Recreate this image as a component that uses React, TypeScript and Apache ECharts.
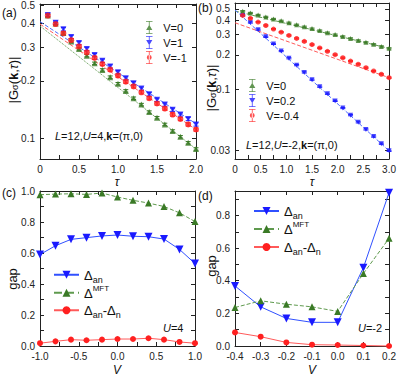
import React, { useEffect, useRef } from "react";
import * as echarts from "echarts";

// ---------- data ----------
// panel (a): |G(k,tau)|, L=12, U=4
const tauA = [0.1, 0.2, 0.3, 0.4, 0.5, 0.6, 0.7, 0.8, 0.9, 1.0, 1.1, 1.2, 1.3, 1.4, 1.5, 1.6, 1.7, 1.8, 1.9, 2.0];
const aV0 = [0.44, 0.4, 0.356, 0.322, 0.294, 0.271, 0.247, 0.228, 0.209, 0.193, 0.177, 0.162, 0.15, 0.137, 0.128, 0.118, 0.109, 0.1016, 0.0945, 0.0877];
const aV1 = [0.443, 0.404, 0.373, 0.34, 0.316, 0.294, 0.273, 0.255, 0.238, 0.222, 0.206, 0.194, 0.182, 0.17, 0.159, 0.15, 0.141, 0.133, 0.126, 0.118];
const aVm1 = [0.44, 0.397, 0.355, 0.327, 0.303, 0.282, 0.264, 0.245, 0.229, 0.213, 0.198, 0.187, 0.174, 0.162, 0.152, 0.143, 0.133, 0.126, 0.118, 0.111];
const aFitTau = [0, 2.0];
const aFitV0 = [0.388, 0.0877];
const aFitV1 = [0.409, 0.119];
const aFitVm1 = [0.397, 0.111];
const aErrRel = [0.015, 0.02, 0.02];
const aNames = ["V=0", "V=1", "V=-1"];

// panel (b): L=12, U=-2
const tauB = [0.15, 0.3, 0.45, 0.6, 0.75, 0.9, 1.05, 1.2, 1.35, 1.5, 1.65, 1.8, 1.95, 2.1, 2.25, 2.4, 2.55, 2.7, 2.85, 3.0];
const bV0 = [0.478, 0.462, 0.444, 0.427, 0.41, 0.395, 0.38, 0.365, 0.351, 0.338, 0.325, 0.312, 0.3, 0.289, 0.278, 0.267, 0.257, 0.247, 0.237, 0.228];
const bV02 = [0.44, 0.382, 0.331, 0.287, 0.249, 0.216, 0.187, 0.163, 0.141, 0.122, 0.106, 0.0921, 0.0799, 0.0693, 0.0601, 0.0521, 0.0452, 0.0392, 0.034, 0.0295];
const bVm04 = [0.44, 0.415, 0.385, 0.36, 0.335, 0.315, 0.295, 0.278, 0.262, 0.246, 0.23, 0.215, 0.201, 0.189, 0.177, 0.166, 0.155, 0.145, 0.136, 0.127];
const bFitTau = [0, 3.0];
const bFitV0 = [0.48, 0.228];
const bFitV02 = [0.49, 0.0295];
const bFitVm04 = [0.38, 0.127];
const bErrRel = [0.012, 0.012, 0.012];
const bNames = ["V=0", "V=0.2", "V=-0.4"];

// panel (c): gap vs V, U=4
const vC = [-1.0, -0.8, -0.6, -0.4, -0.2, 0.0, 0.2, 0.4, 0.6, 0.8, 1.0];
const cAn = [0.59, 0.647, 0.688, 0.699, 0.71, 0.716, 0.708, 0.705, 0.69, 0.623, 0.532];
const cMft = [0.976, 0.98, 0.982, 0.978, 0.987, 0.961, 0.94, 0.922, 0.9, 0.859, 0.803];
const cDiff = [0.018, 0.03, 0.041, 0.037, 0.041, 0.045, 0.045, 0.05, 0.041, 0.026, 0.018];

// panel (d): gap vs V, U=-2
const vD = [-0.4, -0.3, -0.2, -0.1, 0.0, 0.1, 0.2];
const dAn = [0.368, 0.24, 0.169, 0.145, 0.145, 0.48, 0.94];
const dMft = [0.236, 0.277, 0.256, 0.24, 0.212, 0.444, 0.66];
const dDiff = [0.083, 0.057, 0.022, 0.008, 0.006, 0.003, 0.0];

// tick label values
const aYTicks = [0.1, 0.2, 0.3, 0.4, 0.5];
const bYTicks = [0.03, 0.1, 0.2, 0.3, 0.4, 0.5];
const dYLabels = [0.0, 0.2, 0.4, 0.6, 0.8];
const dYTicks = [0.0, 0.1, 0.2, 0.3, 0.4, 0.5, 0.6, 0.7, 0.8, 0.9];

// ---------- style ----------
const FONT = "'Liberation Sans', Arial, sans-serif";
const AX = "#222";
const GREEN = "#3a7a26";
const BLUE = "#1a1aff";
const RED = "#ff2020";
const GREEN_L = "#5f9a4e";
const BLUE_L = "#4f6cff";
const RED_L = "#ff5a5a";

const lg = (v: number) => Math.log10(v);

const tickStyle = { inside: true, length: 4, lineStyle: { color: AX, width: 1 } };
const minorStyle = { show: true, splitNumber: 2, length: 4, lineStyle: { color: AX, width: 1 } };
const labelStyle = { color: "#222", fontSize: 10, fontFamily: FONT };
const lineStyleAx = { show: true, onZero: false, lineStyle: { color: AX, width: 1 } };

function xPair(grid: number, min: number, max: number, interval: number, minor: boolean, fmt: (v: number) => string) {
  const base: any = {
    type: "value",
    gridIndex: grid,
    min,
    max,
    interval,
    axisLine: lineStyleAx,
    axisTick: tickStyle,
    minorTick: minor ? minorStyle : { show: false },
    splitLine: { show: false },
    minorSplitLine: { show: false },
  };
  return [
    { ...base, position: "bottom", axisLabel: { ...labelStyle, margin: 5, formatter: fmt } },
    { ...base, position: "top", axisLabel: { show: false } },
  ];
}

function yLogPair(grid: number, min: number, max: number, ticks: number[]) {
  const vals = ticks.map(lg);
  const base: any = {
    type: "value",
    gridIndex: grid,
    min,
    max,
    axisLine: lineStyleAx,
    axisTick: { ...tickStyle, customValues: vals },
    splitLine: { show: false },
  };
  const fmt = (v: number) => {
    const r = Math.pow(10, v);
    return r < 0.095 ? r.toFixed(2) : r.toFixed(1);
  };
  return [
    { ...base, position: "left", axisLabel: { ...labelStyle, margin: 5, customValues: vals, formatter: fmt } },
    { ...base, position: "right", axisLabel: { show: false } },
  ];
}

function yLinPair(grid: number, min: number, max: number, interval: number, custom?: { labels: number[]; ticks: number[] }) {
  const base: any = {
    type: "value",
    gridIndex: grid,
    min,
    max,
    interval,
    axisLine: lineStyleAx,
    axisTick: custom ? { ...tickStyle, customValues: custom.ticks } : tickStyle,
    minorTick: custom ? { show: false } : minorStyle,
    splitLine: { show: false },
    minorSplitLine: { show: false },
  };
  const lab: any = { ...labelStyle, margin: 5, formatter: (v: number) => v.toFixed(1) };
  if (custom) lab.customValues = custom.labels;
  return [
    { ...base, position: "left", axisLabel: lab },
    { ...base, position: "right", axisLabel: { show: false } },
  ];
}

function errSeries(grid: number, xs: number[], ys: number[], rel: number, color: string) {
  return {
    type: "custom",
    xAxisIndex: grid * 2,
    yAxisIndex: grid * 2,
    silent: true,
    z: 2,
    clip: false,
    encode: { x: 0, y: [1, 2] },
    data: xs.map((x, i) => [x, lg(ys[i] * (1 - rel)), lg(ys[i] * (1 + rel))]),
    renderItem: (_p: any, api: any) => {
      const x = api.value(0);
      const a = api.coord([x, api.value(2)]);
      const b = api.coord([x, api.value(1)]);
      const w = 2.5;
      const st = { stroke: color, lineWidth: 1 };
      return {
        type: "group",
        children: [
          { type: "line", shape: { x1: a[0], y1: a[1], x2: b[0], y2: b[1] }, style: st },
          { type: "line", shape: { x1: a[0] - w, y1: a[1], x2: a[0] + w, y2: a[1] }, style: st },
          { type: "line", shape: { x1: b[0] - w, y1: b[1], x2: b[0] + w, y2: b[1] }, style: st },
        ],
      };
    },
  };
}

function pts(grid: number, name: string, xs: number[], ys: number[], color: string, symbol: string, rot: number, size: number) {
  return {
    type: "scatter",
    name,
    xAxisIndex: grid * 2,
    yAxisIndex: grid * 2,
    z: 3,
    clip: false,
    symbol,
    symbolRotate: rot,
    symbolSize: size,
    itemStyle: { color },
    data: xs.map((x, i) => [x, lg(ys[i])]),
  };
}

function fit(grid: number, xs: number[], ys: number[], color: string, type: string) {
  return {
    type: "line",
    xAxisIndex: grid * 2,
    yAxisIndex: grid * 2,
    silent: true,
    z: 1,
    symbol: "none",
    lineStyle: { color, width: 1, type },
    data: xs.map((x, i) => [x, lg(ys[i])]),
  };
}

function gapLine(grid: number, name: string, xs: number[], ys: number[], color: string, lineColor: string, dash: string, symbol: string, rot: number, size: number) {
  return {
    type: "line",
    name,
    xAxisIndex: grid * 2,
    yAxisIndex: grid * 2,
    clip: false,
    symbol,
    symbolRotate: rot,
    symbolSize: size,
    itemStyle: { color },
    lineStyle: { color: lineColor, width: 1, type: dash },
    data: xs.map((x, i) => [x, ys[i]]),
  };
}

const ICON_UP = "path://M1,0H9V1H1ZM1,15H9V16H1ZM4.5,0H5.5V16H4.5ZM5,4.5L8.8,11H1.2Z";
const ICON_DN = "path://M1,0H9V1H1ZM1,15H9V16H1ZM4.5,0H5.5V16H4.5ZM1.2,5H8.8L5,11.5Z";
const ICON_CI = "path://M1,0H9V1H1ZM1,15H9V16H1ZM4.5,0H5.5V16H4.5ZM2,8A3,3,0,1,0,8,8A3,3,0,1,0,2,8Z";

const gapRich = {
  m: { fontSize: 13, fontFamily: FONT, color: "#111", lineHeight: 18, verticalAlign: "middle" },
  s: { fontSize: 9, fontFamily: FONT, color: "#111", lineHeight: 9, verticalAlign: "bottom" },
  u: { fontSize: 8, fontFamily: FONT, color: "#111", lineHeight: 9, verticalAlign: "top" },
};
const gapLabels: Record<string, string> = {
  an: "{m|Δ}{s|an}",
  mft: "{m|Δ}{u|MFT}",
  diff: "{m|Δ}{s|an}{m|-Δ}{s|n}",
};

const titleRich = {
  n: { fontSize: 13, fontFamily: FONT, color: "#111" },
  s: { fontSize: 9, fontFamily: FONT, color: "#111", verticalAlign: "bottom", lineHeight: 10 },
  b: { fontSize: 13, fontFamily: FONT, color: "#111", fontWeight: "bold" },
  i: { fontSize: 13, fontFamily: FONT, color: "#111", fontStyle: "italic" },
};
const noteRich = {
  n: { fontSize: 11, fontFamily: FONT, color: "#111" },
  i: { fontSize: 11, fontFamily: FONT, color: "#111", fontStyle: "italic" },
  b: { fontSize: 11, fontFamily: FONT, color: "#111", fontWeight: "bold" },
};

function txt(x: number, y: number, text: string, opts: any = {}) {
  return {
    type: "text",
    x,
    y,
    rotation: opts.rotation || 0,
    z: 10,
    style: {
      text,
      fill: "#111",
      fontSize: opts.fontSize || 12,
      fontFamily: FONT,
      fontStyle: opts.fontStyle || "normal",
      align: opts.align || "left",
      verticalAlign: "middle",
      rich: opts.rich,
    },
  };
}

export default function App() {
  const ref = useRef<HTMLDivElement>(null);
  useEffect(() => {
    document.body.style.margin = "0";
    if (!ref.current) return;
    const chart = echarts.init(ref.current, undefined, { renderer: "svg" });

    const fmtA = (v: number) => (v === 0 ? "0" : v.toFixed(1));
    const fmt1 = (v: number) => v.toFixed(1);

    const aCols = [GREEN, BLUE, RED];
    const aLight = [GREEN_L, BLUE_L, RED_L];
    const aData = [aV0, aV1, aVm1];
    const aFits = [aFitV0, aFitV1, aFitVm1];
    const bData = [bV0, bV02, bVm04];
    const bFits = [bFitV0, bFitV02, bFitVm04];
    const syms = ["triangle", "triangle", "circle"];
    const rots = [0, 180, 0];
    const icons = [ICON_UP, ICON_DN, ICON_CI];

    const series: any[] = [];
    for (let k = 0; k < 3; k++) {
      series.push(fit(0, aFitTau, aFits[k], aLight[k], k === 0 ? "dotted" : "dashed"));
      series.push(errSeries(0, tauA, aData[k], aErrRel[k], aCols[k]));
      series.push(pts(0, "a" + k, tauA, aData[k], aCols[k], syms[k], rots[k], 6));
    }
    for (let k = 0; k < 3; k++) {
      series.push(fit(1, bFitTau, bFits[k], aLight[k], "dashed"));
      series.push(errSeries(1, tauB, bData[k], bErrRel[k], aCols[k]));
      series.push(pts(1, "b" + k, tauB, bData[k], aCols[k], syms[k], rots[k], 5));
    }
    series.push(gapLine(2, "c:an", vC, cAn, BLUE, "#3050ff", "solid", "triangle", 180, 8));
    series.push(gapLine(2, "c:mft", vC, cMft, GREEN, GREEN_L, "dashed", "triangle", 0, 7));
    series.push(gapLine(2, "c:diff", vC, cDiff, RED, RED_L, "solid", "circle", 0, 6));
    series.push(gapLine(3, "d:an", vD, dAn, BLUE, "#3050ff", "solid", "triangle", 180, 8));
    series.push(gapLine(3, "d:mft", vD, dMft, GREEN, GREEN_L, "dashed", "triangle", 0, 7));
    series.push(gapLine(3, "d:diff", vD, dDiff, RED, RED_L, "solid", "circle", 0, 6));

    const legendText = { fontSize: 11, fontFamily: FONT, color: "#111", padding: [0, 0, 0, 5] };

    const option: any = {
      animation: false,
      backgroundColor: "#fff",
      grid: [
        { left: 40, top: 3, width: 156, height: 156 },
        { left: 235, top: 3, width: 157, height: 156 },
        { left: 40, top: 191, width: 155, height: 155 },
        { left: 235, top: 191, width: 156, height: 155 },
      ],
      xAxis: [
        ...xPair(0, 0, 2, 0.5, true, fmtA),
        ...xPair(1, 0, 3, 0.5, true, fmtA),
        ...xPair(2, -1, 1, 0.5, true, fmt1),
        ...xPair(3, -0.4, 0.2, 0.1, false, fmt1),
      ],
      yAxis: [
        ...yLogPair(0, lg(0.1) - 21 / 191.7, lg(0.5) + 1 / 191.7, aYTicks),
        ...yLogPair(1, lg(0.03) - 9 / 115.4, lg(0.5) + 6 / 115.4, bYTicks),
        ...yLinPair(2, 0, 1, 0.2),
        ...yLinPair(3, 0, 0.95, 0.2, { labels: dYLabels, ticks: dYTicks }),
      ],
      legend: [
        {
          orient: "vertical",
          left: 141,
          top: 16,
          itemWidth: 8,
          itemHeight: 13,
          itemGap: 2,
          data: [0, 1, 2].map((k) => ({ name: "a" + k, icon: icons[k] })),
          formatter: (n: string) => aNames[Number(n.slice(1))],
          textStyle: legendText,
        },
        {
          orient: "vertical",
          left: 244,
          top: 74,
          itemWidth: 8,
          itemHeight: 13,
          itemGap: 2,
          data: [0, 1, 2].map((k) => ({ name: "b" + k, icon: icons[k] })),
          formatter: (n: string) => bNames[Number(n.slice(1))],
          textStyle: legendText,
        },
        {
          orient: "vertical",
          left: 53,
          top: 266,
          itemWidth: 25,
          itemHeight: 10,
          itemGap: 0,
          padding: 0,
          data: ["c:an", "c:mft", "c:diff"],
          formatter: (n: string) => gapLabels[n.slice(2)],
          textStyle: { rich: gapRich, height: 17.5, lineHeight: 17.5 },
        },
        {
          orient: "vertical",
          left: 253,
          top: 202,
          itemWidth: 25,
          itemHeight: 10,
          itemGap: 0,
          padding: 0,
          data: ["d:an", "d:mft", "d:diff"],
          formatter: (n: string) => gapLabels[n.slice(2)],
          textStyle: { rich: gapRich, height: 18, lineHeight: 18 },
        },
      ],
      graphic: [
        txt(2, 13, "(a)", { fontSize: 12 }),
        txt(198, 8, "(b)", { fontSize: 12 }),
        txt(2, 193, "(c)", { fontSize: 12 }),
        txt(198, 196, "(d)", { fontSize: 12 }),
        txt(13, 80, "{n||G}{s|σ}{n|(}{b|k}{n|,}{i|τ}{n|)|}", { rotation: Math.PI / 2, align: "center", rich: titleRich }),
        txt(211, 88, "{n||G}{s|σ}{n|(}{b|k}{n|,}{i|τ}{n|)|}", { rotation: Math.PI / 2, align: "center", rich: titleRich }),
        txt(12, 279, "gap", { rotation: Math.PI / 2, align: "center", fontSize: 13 }),
        txt(211, 266, "gap", { rotation: Math.PI / 2, align: "center", fontSize: 13 }),
        txt(117, 182, "τ", { align: "center", fontSize: 12, fontStyle: "italic" }),
        txt(312, 182, "τ", { align: "center", fontSize: 12, fontStyle: "italic" }),
        txt(117, 370, "V", { align: "center", fontSize: 12, fontStyle: "italic" }),
        txt(312, 370, "V", { align: "center", fontSize: 12, fontStyle: "italic" }),
        txt(55, 136, "{i|L}{n|=12,}{i|U}{n|=4,}{b|k}{n|=(π,0)}", { rich: noteRich }),
        txt(246, 145, "{i|L}{n|=12,}{i|U}{n|=-2,}{b|k}{n|=(π,0)}", { rich: noteRich }),
        txt(163, 328, "{i|U}{n|=4}", { rich: noteRich }),
        txt(358, 328, "{i|U}{n|=-2}", { rich: noteRich }),
      ],
      series,
    };
    chart.setOption(option);
    return () => chart.dispose();
  }, []);
  return <div ref={ref} style={{ width: 399, height: 379 }} />;
}
